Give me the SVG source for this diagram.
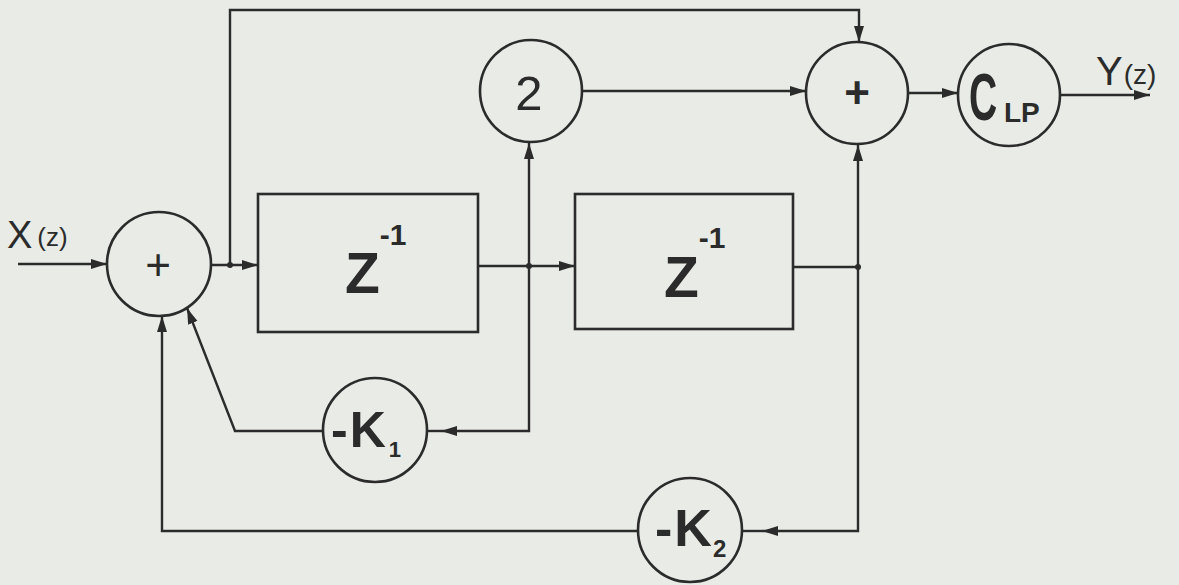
<svg xmlns="http://www.w3.org/2000/svg" width="1179" height="585" viewBox="0 0 1179 585">
<defs>
<marker id="arr" markerUnits="userSpaceOnUse" markerWidth="18" markerHeight="12" refX="16" refY="5" orient="auto">
<path d="M0,0 L16,5 L0,10 z" fill="#2b2b2b"/>
</marker>
<style>
.node circle, .node rect { fill: none; stroke: #2b2b2b; stroke-width: 2.6; }
.wire { fill: none; stroke: #2b2b2b; stroke-width: 2.4; }
.arrow { marker-end: url(#arr); }
.dot { fill: #2b2b2b; }
text { font-family: "Liberation Sans", "DejaVu Sans", sans-serif; fill: #2b2b2b; }
.big { font-weight: bold; }
.thin { font-weight: normal; }
</style>
</defs>
<rect x="0" y="0" width="1179" height="585" fill="#e8ebe6"/>

<g id="connectors">
<path class="wire arrow" d="M18,264 L107,264"/>
<path class="wire arrow" d="M211,265 L258,265"/>
<path class="wire arrow" d="M230,265 L230,10 L859,10 L859,42"/>
<path class="wire arrow" d="M478,266 L575,266"/>
<path class="wire arrow" d="M529,266 L529,143"/>
<path class="wire arrow" d="M529,266 L529,431 L441,431"/>
<path class="wire" d="M441,431 L427,431"/>
<path class="wire arrow" d="M323,431 L235,431 L187,308"/>
<path class="wire arrow" d="M582,91 L806,91"/>
<path class="wire" d="M793,267 L858,267"/>
<path class="wire arrow" d="M858,267 L858,145"/>
<path class="wire arrow" d="M858,267 L858,531 L762,531"/>
<path class="wire" d="M762,531 L742,531"/>
<path class="wire arrow" d="M638,531 L162,531 L162,316"/>
<path class="wire arrow" d="M908,93 L958,93"/>
<path class="wire arrow" d="M1060,95 L1150,95"/>
<circle class="dot" cx="230" cy="265" r="3"/>
<circle class="dot" cx="529" cy="266" r="3"/>
<circle class="dot" cx="858" cy="267" r="3"/>
</g>

<g id="input-label">
<text x="7" y="248" font-size="38">X<tspan font-size="26" dx="5" dy="-2">(z)</tspan></text>
</g>

<g id="sum1" class="node">
<circle cx="159" cy="264" r="52"/>
<text x="158" y="280" font-size="44" text-anchor="middle">+</text>
</g>

<g id="delay1" class="node">
<rect x="258" y="194" width="220" height="138"/>
<text x="345" y="293" font-size="57" class="big">Z<tspan font-size="30" dy="-48">-1</tspan></text>
</g>

<g id="delay2" class="node">
<rect x="575" y="194" width="218" height="135"/>
<text x="664" y="297" font-size="57" class="big">Z<tspan font-size="30" dy="-49">-1</tspan></text>
</g>

<g id="gain2" class="node">
<circle cx="531" cy="91" r="51"/>
<text x="529" y="110" font-size="49" text-anchor="middle">2</text>
</g>

<g id="sum2" class="node">
<circle cx="857" cy="93" r="51"/>
<text x="857" y="108" font-size="44" text-anchor="middle" class="big">+</text>
</g>

<g id="clp" class="node">
<circle cx="1009" cy="95" r="51"/>
<text transform="translate(969,120) scale(0.75,1.3)" font-size="52" class="big">C</text>
<text x="1004" y="122" font-size="28" class="big">LP</text>
</g>

<g id="output-label">
<text x="1096" y="85" font-size="40">Y<tspan font-size="28" dx="1" dy="-1">(z)</tspan></text>
</g>

<g id="k1" class="node">
<circle cx="375" cy="430" r="52"/>
<text x="331" y="447" font-size="50" class="big">-<tspan dx="2">K</tspan><tspan font-size="22" dx="3" dy="10">1</tspan></text>
</g>

<g id="k2" class="node">
<circle cx="690" cy="530" r="52"/>
<text x="655" y="546" font-size="52" class="big">-<tspan dx="2">K</tspan><tspan font-size="24" dx="1" dy="11">2</tspan></text>
</g>
</svg>
